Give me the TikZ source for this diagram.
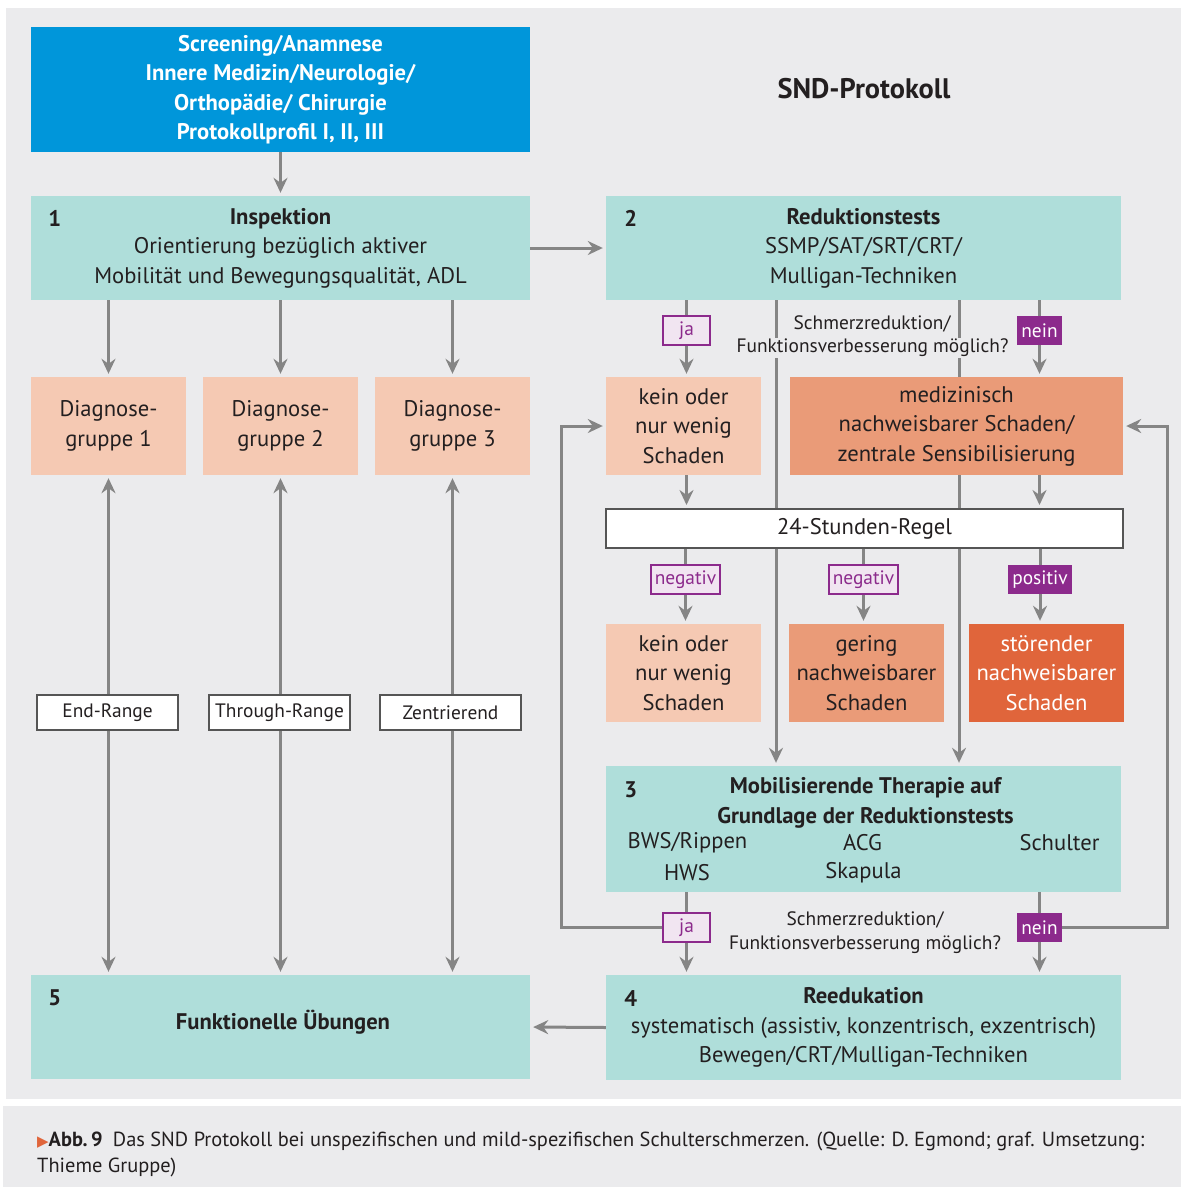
\documentclass[tikz,border=0pt]{standalone}
\usepackage{fontspec}
\setmainfont{PT Sans}
\newfontfamily\symbolschrift{DejaVu Sans}
\usetikzlibrary{arrows.meta,positioning}

\definecolor{hgrau}{HTML}{EBEBED}
\definecolor{tuerkis}{HTML}{AFDEDA}
\definecolor{blau}{HTML}{0096DA}
\definecolor{linie}{HTML}{858585}
\definecolor{rahmen}{HTML}{555555}
\definecolor{lila}{HTML}{8C2A8C}
\definecolor{hlila}{HTML}{F1E5F1}
\definecolor{pfirsich}{HTML}{F5C9B3}
\definecolor{lachs}{HTML}{EA9B78}
\definecolor{dorange}{HTML}{E0653B}
\definecolor{schrift}{HTML}{231F20}

\newcommand{\hauptschrift}{\fontsize{22.6}{29.5}\selectfont}
\newcommand{\kleinschrift}{\fontsize{19.4}{24}\selectfont}

\pgfdeclarelayer{hinten}
\pgfdeclarelayer{kanten}
\pgfsetlayers{hinten,kanten,main}

\tikzset{
  kasten/.style={rectangle, inner sep=0pt, align=center, text=schrift, font=\hauptschrift},
  tkasten/.style={kasten, fill=tuerkis},
  diagkasten/.style={kasten, fill=pfirsich, minimum width=155pt, minimum height=98pt},
  nummer/.style={font=\hauptschrift\bfseries, text=schrift, inner sep=0pt},
  hlabel/.style={rectangle, draw=lila, line width=1.5pt, fill=hlila, text=lila, font=\kleinschrift, minimum height=29pt, inner sep=0pt},
  dlabel/.style={rectangle, fill=lila, text=white, font=\kleinschrift, minimum height=29pt, inner sep=0pt},
  wkasten/.style={rectangle, draw=rahmen, line width=1.5pt, fill=white, text=schrift, font=\kleinschrift, minimum width=141pt, minimum height=35pt, inner sep=0pt},
  frage/.style={text=schrift, font=\kleinschrift, align=center, inner sep=1pt},
  pfeil/.style={draw=linie, line width=3pt, -{Stealth[length=15pt, width=14pt, inset=5pt]}, shorten >=3pt},
  dpfeil/.style={pfeil, {Stealth[length=15pt, width=14pt, inset=5pt]}-{Stealth[length=15pt, width=14pt, inset=5pt]}, shorten <=3pt}
}

\begin{document}
\begin{tikzpicture}[x=1pt, y=-1pt]
\useasboundingbox (0,0) rectangle (1181,1187);
\begin{pgfonlayer}{hinten}
\fill[hgrau] (6,8) rectangle (1181,1099);
\fill[hgrau] (3,1106) rectangle (1181,1187);
\end{pgfonlayer}

% linke Spalte
\node[kasten, fill=blau, text=white, font=\hauptschrift\bfseries, minimum width=499pt, minimum height=125pt] (screen) at (280.5,89.5)
  {Screening/Anamnese\\Innere Medizin/Neurologie/\\Orthopädie/ Chirurgie\\Protokollprofil I, II, III};
\node[tkasten, minimum width=499pt, minimum height=104pt] (insp) at (280.5,248)
  {\textbf{Inspektion}\\Orientierung bezüglich aktiver\\Mobilität und Bewegungsqualität, ADL};
\node[nummer] (n1) at ([shift={(24,23)}]insp.north west) {1};
\node[diagkasten] (diag1) at (108.5,426) {Diagnose-\\gruppe 1};
\node[diagkasten] (diag2) at (280.5,426) {Diagnose-\\gruppe 2};
\node[diagkasten] (diag3) at (452.5,426) {Diagnose-\\gruppe 3};
\node[tkasten, minimum width=499pt, minimum height=104pt] (funk) at (280.5,1027) {};
\node[kasten, font=\hauptschrift\bfseries] (funktitel) at (283,1022) {Funktionelle Übungen};
\node[nummer] (n5) at ([shift={(24,23)}]funk.north west) {5};

% rechte Spalte
\node[kasten, font=\fontsize{28.3}{30}\selectfont\bfseries] (titel) at (864,89) {SND-Protokoll};
\node[tkasten, minimum width=515pt, minimum height=104pt] (redu) at (863.5,248)
  {\textbf{Reduktionstests}\\SSMP/SAT/SRT/CRT/\\Mulligan-Techniken};
\node[nummer] (n2) at ([shift={(25,23)}]redu.north west) {2};
\node[diagkasten] (kein1) at (683.5,426) {kein oder\\nur wenig\\Schaden};
\node[kasten, fill=lachs, minimum width=333pt, minimum height=98pt] (med) at (956.5,426)
  {medizinisch\\nachweisbarer Schaden/\\zentrale Sensibilisierung};
\node[rectangle, draw=rahmen, line width=2pt, fill=white, text=schrift, font=\hauptschrift, minimum width=517pt, minimum height=39pt, inner sep=0pt] (regel) at (864.5,528.5) {24-Stunden-Regel};
\node[diagkasten] (kein2) at (683.5,673) {kein oder\\nur wenig\\Schaden};
\node[kasten, fill=lachs, minimum width=155pt, minimum height=98pt] (gering) at (866.5,673) {gering\\nachweisbarer\\Schaden};
\node[kasten, fill=dorange, text=white, minimum width=155pt, minimum height=98pt] (stoer) at (1046.5,673) {störender\\nachweisbarer\\Schaden};
\node[tkasten, minimum width=515pt, minimum height=126pt] (mobi) at (863.5,829) {};
\node[nummer] (n3) at ([shift={(25,24)}]mobi.north west) {3};
\node[kasten, font=\hauptschrift\bfseries] (mobititel) at (865.5,803) {Mobilisierende Therapie auf\\Grundlage der Reduktionstests};
\node[kasten] (bws) at (687.5,843) {BWS/Rippen};
\node[kasten] (acg) at (862.5,843) {ACG};
\node[kasten] (schulter) at (1059.5,843) {Schulter};
\node[kasten] (hws) at (687,873) {HWS};
\node[kasten] (skapula) at (863.5,873) {Skapula};
\node[tkasten, minimum width=515pt, minimum height=105pt] (reed) at (863.5,1027.5)
  {\textbf{Reedukation}\\systematisch (assistiv, konzentrisch, exzentrisch)\\Bewegen/CRT/Mulligan-Techniken};
\node[nummer] (n4) at ([shift={(25,24)}]reed.north west) {4};

% Beschriftungen
\node[hlabel, minimum width=47pt] (ja1) at (686.5,330.5) {ja};
\node[dlabel, minimum width=45pt] (nein1) at (1039.5,330.5) {nein};
\node[frage] (frage1a) at (872,324) {Schmerzreduktion/};
\node[frage, fill=hgrau] (frage1b) at (872.5,348) {Funktionsverbesserung möglich?};
\node[hlabel, minimum width=69pt] (neg1) at (685.5,579.5) {negativ};
\node[hlabel, minimum width=69pt] (neg2) at (863.5,579.5) {negativ};
\node[dlabel, minimum width=64pt] (pos) at (1040,579.5) {positiv};
\node[hlabel, minimum width=47pt] (ja2) at (686.5,927.5) {ja};
\node[dlabel, minimum width=45pt] (nein2) at (1039.5,927.5) {nein};
\node[frage] (frage2) at (865,933) {Schmerzreduktion/\\Funktionsverbesserung möglich?};
\node[wkasten] (endr) at (107.5,712.5) {End-Range};
\node[wkasten] (thru) at (279.5,712.5) {Through-Range};
\node[wkasten] (zent) at (450.5,712.5) {Zentrierend};

\coordinate (spur1) at (776,0);
\coordinate (spur2) at (959,0);
\coordinate (spurL) at (561,0);
\coordinate (spurR) at (1167,0);

% Verbindungen
\begin{pgfonlayer}{kanten}
\draw[pfeil] (screen.south) -- (insp.north);
\draw[pfeil] (insp.east) -- (redu.west);
\foreach \d in {diag1,diag2,diag3}
  \draw[pfeil] (insp.south -| \d) -- (\d.north);
\foreach \d in {diag1,diag2,diag3}
  \draw[dpfeil] (\d.south) -- (funk.north -| \d);
\draw[pfeil] (redu.south -| ja1) -- (kein1.north -| ja1);
\draw[pfeil] (redu.south -| nein1) -- (med.north -| nein1);
\draw[pfeil] (redu.south -| spur1) -- (mobi.north -| spur1);
\draw[pfeil] (redu.south -| spur2) -- (mobi.north -| spur2);
\draw[pfeil] (kein1.south -| ja1) -- (regel.north -| ja1);
\draw[pfeil] (med.south -| nein1) -- (regel.north -| nein1);
\draw[pfeil] (regel.south -| neg1) -- (kein2.north -| neg1);
\draw[pfeil] (regel.south -| neg2) -- (gering.north -| neg2);
\draw[pfeil] (regel.south -| pos) -- (stoer.north -| pos);
\draw[pfeil] (mobi.south -| ja2) -- (reed.north -| ja2);
\draw[pfeil] (mobi.south -| nein2) -- (reed.north -| nein2);
\draw[pfeil] (ja2.west) -- (ja2.west -| spurL) |- (kein1.west);
\draw[pfeil] (nein2.east) -- (nein2.east -| spurR) |- (med.east);
\draw[pfeil] (reed.west) -- (funk.east);
\end{pgfonlayer}

% Bildunterschrift
\node[anchor=west, align=left, text=schrift, font=\fontsize{20.4}{26}\selectfont, inner sep=0pt] (legende) at (37,1154)
  {{\color{dorange}\symbolschrift\fontsize{15}{26}\selectfont ▶}\textbf{Abb.\,9}\enspace Das SND Protokoll bei unspezifischen und mild-spezifischen Schulterschmerzen. (Quelle: D. Egmond; graf. Umsetzung:\\Thieme Gruppe)};
\end{tikzpicture}
\end{document}
